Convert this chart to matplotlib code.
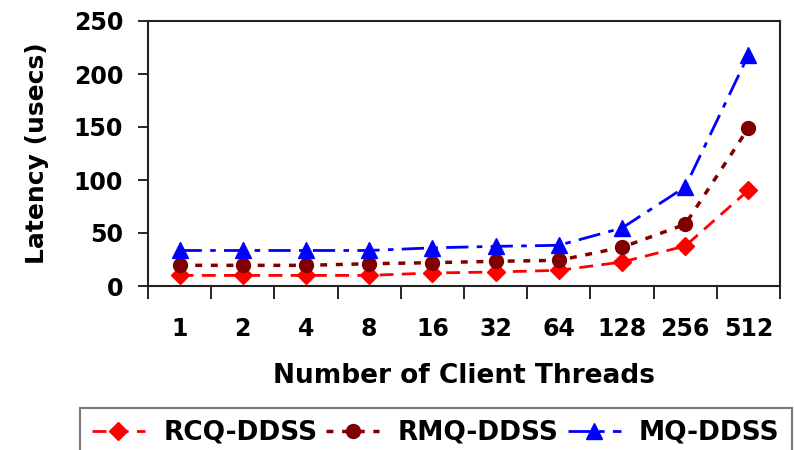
import numpy as np
import matplotlib.pyplot as plt
from matplotlib.ticker import FixedLocator

plt.rcParams['font.family'] = ['DejaVu Sans']
plt.rcParams['font.weight'] = 'bold'

# Latencia por numero de hilos cliente
hilos = ['1', '2', '4', '8', '16', '32', '64', '128', '256', '512']
rcq = [10, 10, 10, 10, 12.3, 13.2, 14.8, 22.6, 37.7, 90.3]
rmq = [19.5, 19.5, 19.5, 21, 22, 23.3, 24.2, 36.5, 58.2, 149]
mq = [33.5, 33.5, 33.5, 33.5, 36, 37.4, 38.4, 54.7, 93.4, 218]

x = np.arange(len(hilos))

fig = plt.figure(figsize=(7.94, 4.5), dpi=100)
ax = fig.add_axes([148/794, 1 - 286/450, (780-148)/794, (286-21)/450])

ax.plot(x, rcq, color='#ff0000', lw=2, dashes=(5, 3), marker='D', ms=9,
        label='RCQ-DDSS')
ax.plot(x, rmq, color='#800000', lw=2.5, dashes=(2, 2.5), marker='o', ms=10,
        label='RMQ-DDSS')
ax.plot(x, mq, color='#0000ff', lw=2, dashes=(8, 3, 2, 3), marker='^', ms=11,
        label='MQ-DDSS')

ax.set_xlim(-0.5, len(hilos) - 0.5)
ax.set_ylim(0, 250)
ax.set_yticks(range(0, 251, 50))
ax.set_xticks(x)
ax.set_xticklabels(hilos)
ax.xaxis.set_minor_locator(FixedLocator(np.arange(-0.5, len(hilos), 1)))
ax.tick_params(axis='x', which='major', length=0, pad=22, labelsize=17)
ax.tick_params(axis='x', which='minor', length=9, width=1.2, direction='out')
ax.tick_params(axis='y', length=7, width=1.2, direction='out', labelsize=17, pad=11)
for s in ax.spines.values():
    s.set_linewidth(1.5)
    s.set_color('#222222')

ax.set_xlabel('Number of Client Threads', fontsize=19, fontweight='bold', labelpad=16)
ax.set_ylabel('Latency (usecs)', fontsize=18, fontweight='bold', labelpad=18)

leg = fig.legend(loc='upper left', bbox_to_anchor=(80/794, 1 - 408/450),
                 ncol=3, fontsize=19, frameon=True, fancybox=False,
                 handlelength=2.0, columnspacing=0.35, borderpad=0.45,
                 handletextpad=0.7, borderaxespad=0)
leg.get_frame().set_edgecolor('#555555')
leg.get_frame().set_linewidth(1.5)

fig.savefig('out.png', dpi=100)
